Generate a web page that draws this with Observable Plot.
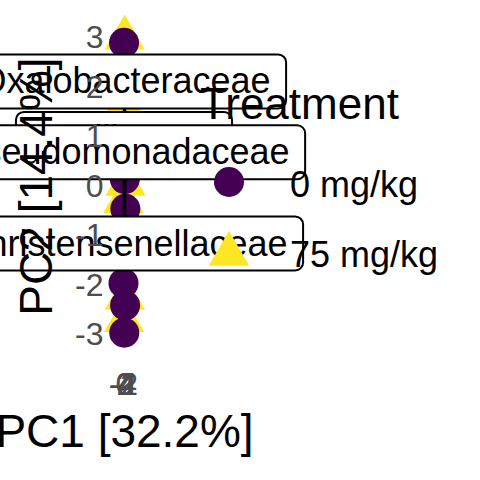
<!DOCTYPE html>
<html>
<head>
<meta charset="utf-8">
<script src="https://cdn.jsdelivr.net/npm/d3@7"></script>
<script src="https://cdn.jsdelivr.net/npm/@observablehq/plot@0.6"></script>
<style>
  body { margin: 0; background: white; }
  #wrap { position: relative; width: 480px; height: 480px; overflow: hidden; font-family: "Liberation Sans", Arial, sans-serif; }
  #legend { position: absolute; left: 0; top: 0; width: 480px; height: 480px; pointer-events: none; }
  #legend div { position: absolute; line-height: 1; white-space: nowrap; color: black; }
</style>
</head>
<body>
<div id="wrap"><div id="chart"></div><div id="legend"></div></div>
<script>
const FONT = "'Liberation Sans', Arial, sans-serif";

// PCA scores per treatment
const treatments = ["0 mg/kg", "75 mg/kg"];
const colors = ["#440154", "#FDE725"];
const pc1Control = [-1.2, 0.8, 2.1, -2.5, 1.5, -0.6];
const pc2Control = [2.9, 0.15, -0.45, -1.95, -2.4, -2.95];
const pc1Treated = [0.4, -1.8, 2.6, -3.0, 1.1, -0.9];
const pc2Treated = [3.0, 1.65, 0.05, -0.3, -2.25, -2.7];

// taxa loadings (arrow tips / labels)
const taxa = ["Oxalobacteraceae", "Bacillaceae", "Pseudomonadaceae", "Christensenellaceae"];
const loadPC1 = [0, 0, 0, 0];
const loadPC2 = [2.11, 0.95, 0.68, -1.16];

const xTicks = [-4, -2, 0, 2, 4];
const yTicks = [-3, -2, -1, 0, 1, 2, 3];

const control = pc1Control.map((x, i) => ({x, y: pc2Control[i], treatment: treatments[0]}));
const treated = pc1Treated.map((x, i) => ({x, y: pc2Treated[i], treatment: treatments[1]}));
const labels = taxa.map((taxon, i) => ({taxon, x: loadPC1[i], y: loadPC2[i]}));

// measure label text so the boxes fit it
const ctx = document.createElement("canvas").getContext("2d");
ctx.font = "36px " + FONT;
const pad = 16;

const labelMarks = labels.flatMap(d => {
  const hw = ctx.measureText(d.taxon).width / 2 + pad;
  return [
    Plot.rect([d], {x1: "x", x2: "x", y1: "y", y2: "y", insetLeft: -hw, insetRight: -hw,
      insetTop: -27, insetBottom: -27, rx: 8, fill: "white", stroke: "black", strokeWidth: 2}),
    Plot.text([d], {x: "x", y: "y", text: "taxon", fontSize: 36, fill: "black", lineAnchor: "middle"})
  ];
});

const chart = Plot.plot({
  width: 480,
  height: 480,
  marginLeft: 122,
  marginRight: 354,
  marginTop: 20,
  marginBottom: 128,
  style: {fontFamily: FONT, fontSize: "32px", background: "white"},
  x: {domain: [-5, 5]},
  y: {domain: [-3.35, 3.35]},
  marks: [
    Plot.dot(treated, {x: "x", y: "y", symbol: "triangle", r: 15, fill: colors[1]}),
    Plot.dot(control, {x: "x", y: "y", symbol: "circle", r: 15, fill: colors[0]}),
    Plot.link(labels, {x1: 0, y1: 0, x2: "x", y2: "y", stroke: "black", strokeWidth: 3.5}),
    ...labelMarks,
    Plot.axisY(yTicks, {tickSize: 0, tickPadding: 19, fontSize: 32, fill: "#4D4D4D", label: null, tickFormat: d => String(d)}),
    Plot.axisX(xTicks, {tickSize: 0, tickPadding: 20, fontSize: 32, fill: "#4D4D4D", label: null, tickFormat: d => String(d)}),
    Plot.text(["PC1 [32.2%]"], {text: d => d, frameAnchor: "bottom", textAnchor: "middle", dy: 80, fontSize: 46, fill: "black", lineAnchor: "middle"}),
    Plot.text(["PC2 [14.4%]"], {text: d => d, frameAnchor: "left", textAnchor: "middle", dx: -85, rotate: -90, fontSize: 46, fill: "black", lineAnchor: "middle"})
  ]
});

d3.select("#chart").append(() => chart);

// legend
const legend = d3.select("#legend");
legend.append("div").style("left", "200px").style("top", "82px").style("font-size", "44px").text("Treatment");
const keys = legend.append("svg").attr("width", 480).attr("height", 480).style("position", "absolute").style("left", 0).style("top", 0);
const keyY = [182, 254];
const textTop = [167, 237];
const shapes = [d3.symbolCircle, d3.symbolTriangle];
treatments.forEach((t, i) => {
  keys.append("path")
    .attr("transform", `translate(229,${keyY[i]})`)
    .attr("d", d3.symbol(shapes[i], Math.PI * 15 * 15)())
    .attr("fill", colors[i]);
  legend.append("div").style("left", "290px").style("top", textTop[i] + "px").style("font-size", "36px").text(t);
});
</script>
</body>
</html>
